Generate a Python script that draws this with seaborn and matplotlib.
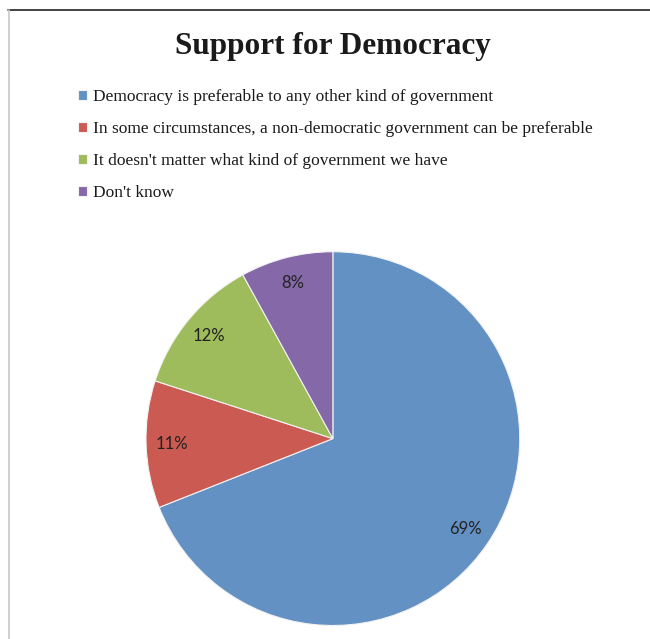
import numpy as np
import pandas as pd
import matplotlib
matplotlib.use('Agg')
import matplotlib.pyplot as plt
from matplotlib.lines import Line2D
import seaborn as sns

# data
answers = ['Democracy is preferable to any other kind of government',
           'In some circumstances, a non-democratic government can be preferable',
           "It doesn't matter what kind of government we have",
           "Don't know"]
shares = [69, 11, 12, 8]
colors = ['#6391C4', '#CB5A52', '#9EBC5C', '#8468A8']

df = pd.DataFrame({'answer': answers, 'share': shares})

sns.set_theme(style='white')
plt.rcParams['font.family'] = ['Liberation Serif', 'DejaVu Serif']

fig = plt.figure(figsize=(6.5, 6.39), dpi=100)
ax = fig.add_axes([0.2246, 0.0211, 0.575, 0.585])

wedges, texts, autotexts = ax.pie(
    df['share'], colors=colors, startangle=90, counterclock=False,
    autopct='%d%%', pctdistance=0.86, radius=1.0,
    wedgeprops=dict(edgecolor='#f2f2f2', linewidth=0.8),
    textprops=dict(fontsize=12, color='#222222', family=['Lato', 'DejaVu Sans']))
ax.set_xlim(-1, 1)
ax.set_ylim(-1, 1)
ax.set_aspect('equal')

fig.text(0.512, 0.927, 'Support for Democracy', ha='center', va='center',
         fontsize=22.5, fontweight='bold', color='#1a1a1a')

fig.legend(wedges, df['answer'], loc='upper left', bbox_to_anchor=(0.12, 0.861),
           frameon=False, fontsize=12.5, handlelength=0.5, handleheight=0.5,
           handletextpad=0.35, labelspacing=0.92, borderpad=0, borderaxespad=0,
           labelcolor='#1a1a1a')

# frame lines of the original screenshot
fig.add_artist(Line2D([8 / 650, 1], [1 - 10 / 639, 1 - 10 / 639],
                      transform=fig.transFigure, color='#222222', linewidth=1.2))
fig.add_artist(Line2D([9 / 650, 9 / 650], [0, 1 - 10 / 639],
                      transform=fig.transFigure, color='#c8c8c8', linewidth=1.2))

fig.savefig('out.png', dpi=100)
